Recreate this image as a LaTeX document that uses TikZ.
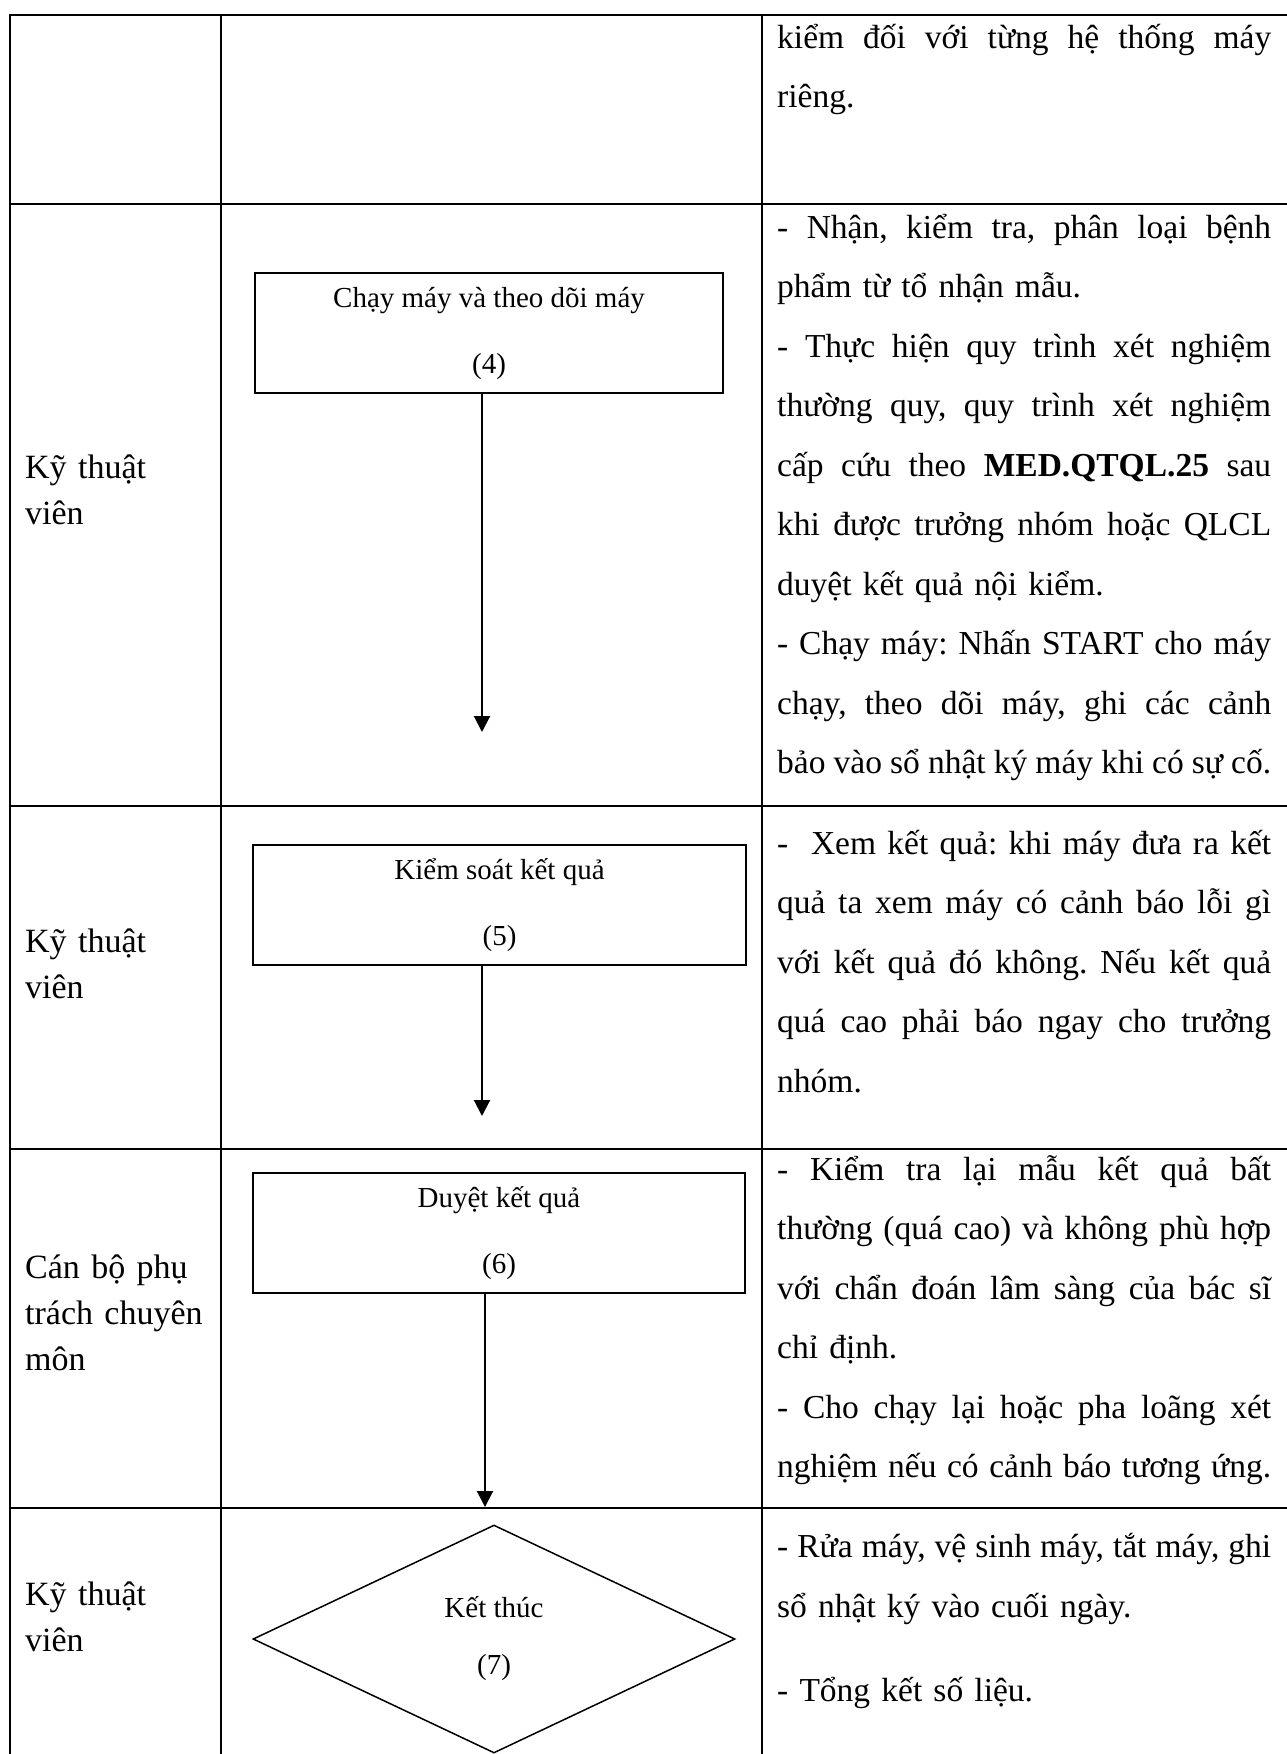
\documentclass[tikz,border=0pt]{standalone}
\usepackage{fontspec}
\setmainfont{Liberation Serif}
\usetikzlibrary{shapes.geometric}
\usetikzlibrary{positioning}
\usetikzlibrary{calc}
\usetikzlibrary{arrows.meta}

% width of the justified description column
\newlength{\descw}
\setlength{\descw}{494pt}
% one justified line: font spaces, stretched to the column width
\newcommand{\jl}[1]{{\spaceskip=0pt\xspaceskip=0pt\makebox[\descw][s]{#1}}}

\tikzset{
  gridline/.style={line width=2pt, line cap=rect},
  stepbox/.style={draw, line width=1.5pt, minimum height=120pt, inner sep=0pt,
                  align=center, font=\fontsize{29}{66}\selectfont},
  endshape/.style={draw, diamond, line width=1.5pt, minimum width=482pt,
                   minimum height=228pt, inner sep=0pt, align=center,
                   font=\fontsize{29}{57}\selectfont},
  flowarrow/.style={line width=2pt, -{Triangle[width=16pt,length=16pt]}},
  rolelabel/.style={anchor=base west, inner sep=0pt, text width=190pt, align=left,
                    font=\fontsize{34}{46}\selectfont},
  desctext/.style={anchor=base west, inner sep=0pt, text width=\descw, align=left,
                   font=\fontsize{33.5}{59.5}\selectfont\frenchspacing},
}

\begin{document}
\begin{tikzpicture}[x=1pt, y=-1pt]
\useasboundingbox (0,0) rectangle (1286,1754);

%---------------------------------------
% Table grid
%---------------------------------------
\def\colA{10}
\def\colB{221}
\def\colC{762}
\def\descx{777}

\foreach \y in {15,204,806,1149,1508}
  \draw[gridline] (\colA,\y) -- (1286,\y);
\foreach \x in {\colA,\colB,\colC}
  \draw[gridline] (\x,15) -- (\x,1754);

%---------------------------------------
% Responsible persons
%---------------------------------------
\node[rolelabel] (role2) at (25,478)  {Kỹ thuật\\viên};
\node[rolelabel] (role3) at (25,952)  {Kỹ thuật\\viên};
\node[rolelabel] (role4) at (25,1278) {Cán bộ phụ\\trách chuyên\\môn};
\node[rolelabel] (role5) at (25,1605) {Kỹ thuật\\viên};

%---------------------------------------
% Flow steps
%---------------------------------------
\node[stepbox, minimum width=468pt] (run)     at (489,333)    {Chạy máy và theo dõi máy\\(4)};
\node[stepbox, minimum width=493pt] (check)   at (499.5,905)  {Kiểm soát kết quả\\(5)};
\node[stepbox, minimum width=492pt] (approve) at (499,1233)   {Duyệt kết quả\\(6)};
\node[endshape] (finish) at (494,1639) {Kết thúc\\(7)};

% arrow ends (open, inside the next row)
\coordinate (runTip)     at (482,732);
\coordinate (checkTip)   at (482,1116);
\coordinate (approveTip) at (485,1507);

\draw[flowarrow] (run.south -| runTip) -- (runTip);
\draw[flowarrow] (check.south -| checkTip) -- (checkTip);
\draw[flowarrow] (approve.south -| approveTip) -- (approveTip);

%---------------------------------------
% Descriptions
%---------------------------------------
\node[desctext] (desc1) at (\descx,48) {%
  \jl{kiểm đối với từng hệ thống máy}\\
  riêng.};

\node[desctext] (desc2) at (\descx,238) {%
  \jl{- Nhận, kiểm tra, phân loại bệnh}\\
  phẩm từ tổ nhận mẫu.\\
  \jl{- Thực hiện quy trình xét nghiệm}\\
  \jl{thường quy, quy trình xét nghiệm}\\
  \jl{cấp cứu theo \textbf{MED.QTQL.25} sau}\\
  \jl{khi được trưởng nhóm hoặc QLCL}\\
  duyệt kết quả nội kiểm.\\
  \jl{- Chạy máy: Nhấn START cho máy}\\
  \jl{chạy, theo dõi máy, ghi các cảnh}\\
  \jl{bảo vào sổ nhật ký máy khi có sự cố.}};

\node[desctext] (desc3) at (\descx,854) {%
  \jl{-\ \ Xem kết quả: khi máy đưa ra kết}\\
  \jl{quả ta xem máy có cảnh báo lỗi gì}\\
  \jl{với kết quả đó không. Nếu kết quả}\\
  \jl{quá cao phải báo ngay cho trưởng}\\
  nhóm.};

\node[desctext] (desc4) at (\descx,1180) {%
  \jl{- Kiểm tra lại mẫu kết quả bất}\\
  \jl{thường (quá cao) và không phù hợp}\\
  \jl{với chẩn đoán lâm sàng của bác sĩ}\\
  chỉ định.\\
  \jl{- Cho chạy lại hoặc pha loãng xét}\\
  \jl{nghiệm nếu có cảnh báo tương ứng.}};

\node[desctext] (desc5) at (\descx,1557.5) {%
  \jl{- Rửa máy, vệ sinh máy, tắt máy, ghi}\\
  sổ nhật ký vào cuối ngày.\\[25pt]
  - Tổng kết số liệu.};

\end{tikzpicture}
\end{document}
